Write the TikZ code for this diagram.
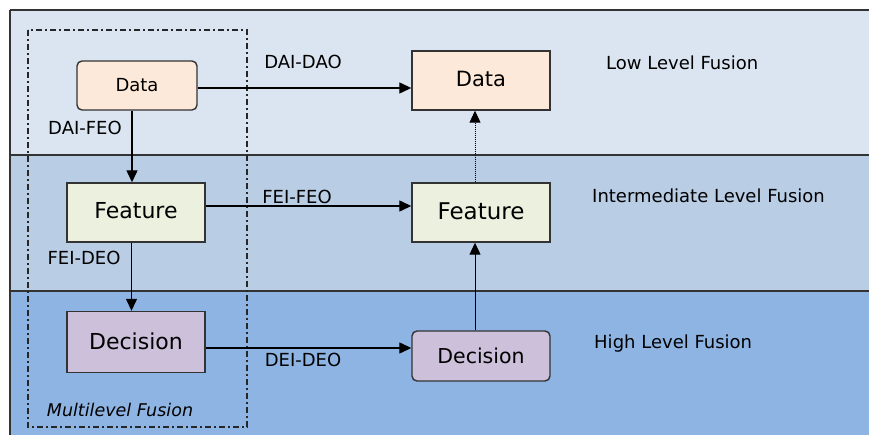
\documentclass[tikz,border=0pt]{standalone}
\usepackage{fontspec}
\setmainfont{DejaVu Sans}
\usetikzlibrary{arrows.meta}
\definecolor{bandA}{HTML}{DBE5F1}
\definecolor{bandB}{HTML}{B9CDE5}
\definecolor{bandC}{HTML}{8EB4E3}
\definecolor{dataC}{HTML}{FDE9D9}
\definecolor{featC}{HTML}{EBF1DE}
\definecolor{decC}{HTML}{CCC0DA}
\definecolor{edgeC}{HTML}{333333}
\tikzset{
  box/.style={draw=edgeC, line width=1.4pt, inner sep=0pt, anchor=center},
  conn/.style={draw=black, line width=1.3pt, -{Triangle[length=12pt,width=11pt]}},
  lbl/.style={font=\fontsize{18}{20}\selectfont, inner sep=0pt, anchor=center},
}
\begin{document}
\begin{tikzpicture}[x=1pt,y=-1pt]
\useasboundingbox (0,0) rectangle (869,435);
\fill[white] (0,0) rectangle (869,435);
% bands
\fill[bandA] (10,10) rectangle (869,155);
\fill[bandB] (10,155) rectangle (869,291);
\fill[bandC] (10,291) rectangle (869,435);
\draw[edgeC, line width=1.8pt] (10,10) -- (869,10);
\draw[edgeC, line width=1.8pt] (10,10) -- (10,435);
\draw[edgeC, line width=1.6pt] (10,155) -- (869,155);
\draw[edgeC, line width=1.6pt] (10,291) -- (869,291);
% multilevel box
\draw[black!85, line width=1.1pt, dash pattern=on 6pt off 3pt on 2pt off 3pt] (28,30) rectangle (247,427);
\node[lbl, font=\fontsize{17.5}{20}\selectfont\itshape] (ml) at (120,410) {Multilevel Fusion};
% nodes
\node[box, fill=dataC, rounded corners=5pt, minimum width=120pt, minimum height=49pt, font=\fontsize{18}{20}\selectfont] (dl) at (137,85.5) {\raisebox{-3pt}{Data}};
\node[box, fill=featC, minimum width=138pt, minimum height=59pt, font=\fontsize{22}{24}\selectfont] (fl) at (136,212.5) {\raisebox{4pt}{Feature}};
\node[box, fill=decC, minimum width=138pt, minimum height=61pt, font=\fontsize{22}{24}\selectfont] (cl) at (136,342) {\raisebox{2pt}{Decision}};
\node[box, fill=dataC, minimum width=138pt, minimum height=59pt, font=\fontsize{21}{24}\selectfont] (dr) at (481,80.5) {\raisebox{3pt}{Data}};
\node[box, fill=featC, minimum width=138pt, minimum height=59pt, font=\fontsize{23}{24}\selectfont] (fr) at (481,212.5) {\raisebox{2pt}{Feature}};
\node[box, fill=decC, rounded corners=5pt, minimum width=138pt, minimum height=50pt, font=\fontsize{20.5}{24}\selectfont] (cr) at (481,356) {\raisebox{-5pt}{Decision}};
% connectors
\draw[conn] ([yshift=-2.5pt]dl.east) -- ([yshift=-2.5pt]dl.east -| dr.west);
\draw[conn] ([xshift=-5pt]dl.south) -- ([xshift=-5pt]dl.south |- fl.north);
\draw[conn] ([yshift=6.5pt]fl.east) -- ([yshift=6.5pt]fl.east -| fr.west);
\draw[conn] ([xshift=-4.5pt]fl.south) -- ([xshift=-4.5pt]fl.south |- cl.north);
\draw[conn] ([yshift=-6pt]cl.east) -- ([yshift=-6pt]cl.east -| cr.west);
\draw[conn, line width=1pt, densely dotted] ([xshift=-6pt]fr.north) -- ([xshift=-6pt]fr.north |- dr.south);
\draw[conn, line width=1pt] ([xshift=-6pt]cr.north) -- ([xshift=-6pt]cr.north |- fr.south);
% labels
\node[lbl] (l1) at (303,62) {DAI-DAO};
\node[lbl] (l2) at (85,128) {DAI-FEO};
\node[lbl] (l3) at (297,197) {FEI-FEO};
\node[lbl] (l4) at (84,258) {FEI-DEO};
\node[lbl] (l5) at (303,360) {DEI-DEO};
\node[lbl, anchor=west] (t1) at (606,63) {Low Level Fusion};
\node[lbl, anchor=west] (t2) at (592,196) {Intermediate Level Fusion};
\node[lbl, anchor=west] (t3) at (594,344) {High Level Fusion};
\end{tikzpicture}
\end{document}
